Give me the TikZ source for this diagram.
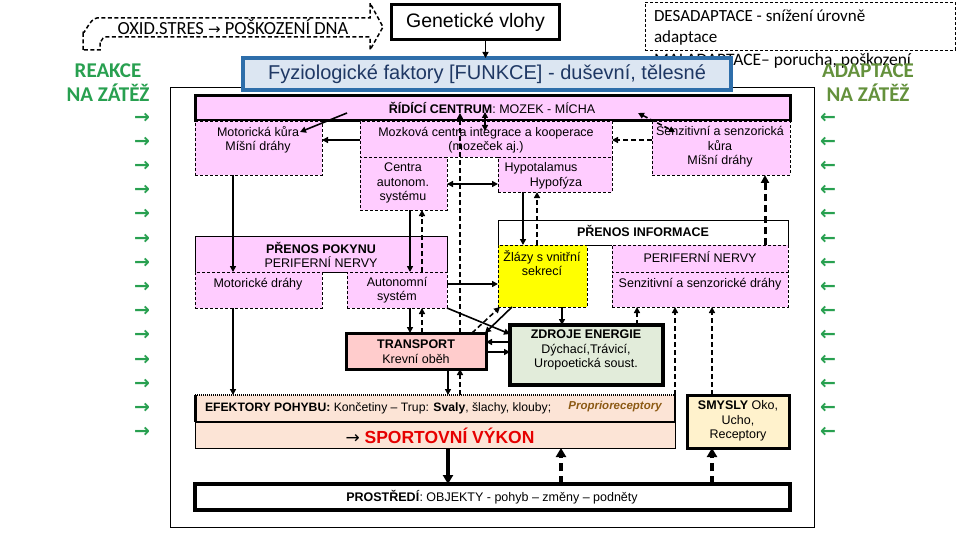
\documentclass[tikz,border=0pt]{standalone}
\usepackage{fontspec}
\setmainfont{Liberation Sans}
\newfontfamily\calf{Carlito}
\newfontfamily\djf{DejaVu Sans}
\usetikzlibrary{arrows.meta,calc}
\definecolor{pinkc}{RGB}{255,204,255}
\definecolor{fyzf}{RGB}{220,230,242}
\definecolor{fyzb}{RGB}{46,110,170}
\definecolor{fyzt}{RGB}{31,56,100}
\definecolor{grn}{RGB}{40,160,80}
\definecolor{olv}{RGB}{100,145,60}
\definecolor{trc}{RGB}{255,204,204}
\definecolor{zec}{RGB}{226,236,218}
\definecolor{efc}{RGB}{252,228,214}
\definecolor{smc}{RGB}{255,242,204}
\definecolor{ylw}{RGB}{255,255,0}
\definecolor{redt}{RGB}{230,0,0}
\definecolor{brn}{RGB}{140,90,20}
\begin{document}
\begin{tikzpicture}[x=1pt,y=-1pt,
  every node/.style={inner sep=0pt, outer sep=0pt},
  sz/.style 2 args={minimum width=#1pt, minimum height=#2pt},
  t/.style={font=\fontsize{12.5}{14.5}\selectfont, align=center},
  bx/.style={draw, line width=0.8pt},
  pk/.style={bx, fill=pinkc, dash pattern=on 3pt off 2pt},
  thk/.style={draw, line width=3pt},
  con/.style={line width=1.6pt, -{Triangle[length=6pt,width=6pt]}},
  dcon/.style={con, dash pattern=on 5pt off 3pt},
  dbl/.style={line width=1.6pt, {Triangle[length=6pt,width=6pt]}-{Triangle[length=6pt,width=6pt]}},
  bcon/.style={line width=4pt, -{Triangle[length=9pt,width=10pt]}},
  bdcon/.style={bcon, dash pattern=on 8pt off 5pt},
  gar/.style={font=\djf\bfseries\fontsize{19}{19}\selectfont, text=grn},
  big/.style={font=\calf\bfseries\fontsize{21}{21}\selectfont},
]
\useasboundingbox (0,0) rectangle (960,540);
\fill[white] (0,0) rectangle (960,540);

% columns / rows for connectors
\foreach \c in {233,410,422,448,460,485,486,523,537,561,562,637,675,712,765}
  \coordinate (c\c) at (\c,0);
\foreach \r in {140,184,284,342,352}
  \coordinate (r\r) at (0,\r);

% top left dashed bent arrow
\draw[line width=1.5pt, dash pattern=on 4pt off 2.5pt]
  (83,50) -- (83,31) to[out=-90,in=180] (97,18) -- (370,18) -- (370,3) -- (383,27)
  -- (370,50) -- (370,37) -- (105,37) to[out=180,in=-90] (100,42) -- (100,50) -- cycle;
\node[font=\calf\fontsize{18.5}{18.5}\selectfont] (oxid) at (233,27) {OXID.STRES {\djf\fontsize{15}{15}\selectfont →} POŠKOZENÍ DNA};

% left labels
\node[big, text=grn] (reak1) at (108,71) {REAKCE};
\node[big, text=grn] (reak2) at (108,93) {NA ZÁTĚŽ};
\foreach \i in {0,...,13} {
  \node[gar] (la\i) at (142,118+24.2*\i) {→};
  \node[gar] (ra\i) at (828,118+24.2*\i) {←};
}

% genetic box
\node[thk, fill=white, sz={168}{35}, font=\fontsize{19.5}{20}\selectfont] (gen) at (475.5,22.5) {Genetické vlohy};

% desadaptace
\node[draw, line width=0.8pt, dash pattern=on 3pt off 2pt, sz={310}{48}] (des) at (800,26) {};
\node[font=\calf\fontsize{17}{21}\selectfont, align=left, anchor=west] (dest) at (654,27.5) {DESADAPTACE - snížení úrovně\\adaptace};
\node[font=\calf\fontsize{17.5}{17.5}\selectfont, anchor=west] (malt) at (654,61) {MALADAPTACE– porucha, poškození};

% outer frame
\node[draw, line width=0.8pt, sz={644}{440}] (frame) at (492,307) {};

% fyziologicke
\node[draw=fyzb, line width=3.5pt, fill=fyzf, sz={488}{32}, font=\fontsize{20}{20}\selectfont, text=fyzt] (fyz) at (487,74) {Fyziologické faktory [FUNKCE] - duševní, tělesné};
\node[big, text=olv] (adap1) at (868,71) {ADAPTACE};
\node[big, text=olv] (adap2) at (868,93) {NA ZÁTĚŽ};

% ridici centrum
\node[thk, fill=pinkc, sz={595}{25}] (ridici) at (492.5,108.5) {};
\node[t] (ridt) at (492,108) {\textbf{ŘÍDÍCÍ CENTRUM}: MOZEK - MÍCHA};

\node[pk, sz={127}{54}] (mk) at (258.5,148) {};
\node[t] (mkt) at (258,140) {Motorická kůra\\Míšní dráhy};
\node[pk, sz={252}{36}] (moz) at (486,139) {};
\node[t] (mozt) at (486,140) {Mozková centra integrace a kooperace\\(mozeček aj.)};
\node[pk, sz={87}{53}] (cent) at (403.5,183.5) {};
\node[t] (centt) at (403,183) {Centra\\autonom.\\systému};
\node[pk, sz={114}{35}] (hyp) at (555,174.5) {};
\node[t] (hypt1) at (541,168) {Hypotalamus};
\node[t] (hypt2) at (556,183) {Hypofýza};
\node[pk, sz={138}{54}] (sen) at (721,148) {};
\node[t] (sent) at (720,147) {Senzitivní a senzorická\\kůra\\Míšní dráhy};

% prenos informace
\node[bx, fill=white, sz={290}{25}] (pinfo) at (643,232.5) {};
\node[t] (pinft) at (643,231) {\textbf{PŘENOS INFORMACE}};
\node[pk, fill=ylw, sz={89}{62}] (zlazy) at (542.5,276) {};
\node[t] (zlat) at (542,263) {Žlázy s vnitřní\\sekrecí};
\node[pk, sz={176}{27}] (pn) at (700,258.5) {};
\node[t] (pnt) at (700,257) {PERIFERNÍ NERVY};
\node[pk, sz={176}{35}] (sd) at (700,289.5) {};
\node[t] (sdt) at (700,284) {Senzitivní a senzorické dráhy};

% prenos pokynu
\node[bx, fill=pinkc, sz={252}{36}] (ppok) at (321,254) {};
\node[t] (ppokt) at (321,255) {\textbf{PŘENOS POKYNU}\\PERIFERNÍ NERVY};
\node[pk, sz={127}{36}] (md) at (258.5,290) {};
\node[t] (mdt) at (258,284) {Motorické dráhy};
\node[pk, sz={100}{36}] (as) at (397,290) {};
\node[t] (ast) at (397,290) {Autonomní\\systém};

% transport, zdroje
\node[thk, fill=trc, sz={140}{36}] (tr) at (416,351) {};
\node[t] (trt) at (416,351.5) {\textbf{TRANSPORT}\\Krevní oběh};
\node[draw, line width=3.5pt, fill=zec, sz={153}{60}] (ze) at (586.5,355) {};
\node[t] (zet) at (586,350) {\textbf{ZDROJE ENERGIE}\\Dýchací,Trávicí,\\Uropoetická soust.};

% efektory, sportovni vykon
\node[fill=efc, sz={480}{27}] (ef) at (435,408.5) {};
\draw[line width=1.3pt, dash pattern=on 1pt off 1pt] (ef.north west) -- (ef.north east);
\draw[line width=3pt] (ef.north west) -- (ef.south west);
\draw[line width=1.8pt] (ef.north east) -- (ef.south east) -- (ef.south west);
\node[font=\fontsize{12.2}{14}\selectfont, anchor=west] (eft) at (205,408) {\textbf{EFEKTORY POHYBU:} Končetiny – Trup: \textbf{Svaly}, šlachy, klouby;};
\node[font=\bfseries\itshape\fontsize{11.5}{14}\selectfont, text=brn] (prop) at (615,407) {Proprioreceptory};
\node[bx, fill=efc, sz={480}{26}] (sv) at (435,435) {};
\node[font=\bfseries\fontsize{17.5}{18}\selectfont] (svt) at (440,436) {{\djf\mdseries\fontsize{17}{17}\selectfont →} \textcolor{redt}{SPORTOVNÍ VÝKON}};
\node[thk, fill=smc, sz={102}{53}] (sm) at (738,421.5) {};
\node[t] (smt) at (738,421) {\textbf{SMYSLY} Oko,\\Ucho,\\Receptory};

% prostredi
\node[draw, line width=4pt, fill=white, sz={595}{26}] (pr) at (492.5,497) {};
\node[t] (prt) at (492,497) {\textbf{PROSTŘEDÍ}: OBJEKTY - pohyb – změny – podněty};

% connectors
\draw[con] ([xshift=10pt]gen.south) -- ([xshift=10pt]gen.south |- fyz.north);
\draw[con] ($(ridici.south west)+(152,-8)$) -- ($(mk.north west)+(105,11)$);
\draw[dbl] ($(ridici.south -| c485)+(0,-9)$) -- ($(moz.north -| c485)+(0,10)$);
\draw[dcon] (tr.north -| c460) -- ($(ridici.south -| c460)+(0,-8)$);
\draw[con] (moz.west |- r140) -- (mk.east |- r140);
\draw[dcon] (sen.west |- r140) -- (moz.east |- r140);
\draw[dbl, dash pattern=on 5pt off 3pt] ($(sen.north west)+(-14,-8)$) -- ($(sen.north west)+(23,11)$);
\draw[dbl] (cent.east |- r184) -- (hyp.west |- r184);
\draw[con] (mk.south -| c233) -- (md.north -| c233);
\draw[con] (md.south -| c233) -- (ef.north -| c233);
\draw[con] (cent.south -| c410) -- (as.north -| c410);
\draw[dcon] (as.north -| c422) -- (cent.south -| c422);
\draw[con] (as.south -| c410) -- (tr.north -| c410);
\draw[dcon] (tr.north -| c422) -- (as.south -| c422);
\draw[con] (as.east |- r284) -- (zlazy.west |- r284);
\draw[con] (as.south east) -- ($(ze.north west)+(0,9)$);
\draw[dcon] ($(tr.north east)+(-14,0)$) -- ($(zlazy.south west)+(2,0)$);
\draw[con] ($(zlazy.south west)+(14,0)$) -- ($(tr.north east)+(-1,0)$);
\draw[con] (ze.west |- r342) -- (tr.east |- r342);
\draw[con] (tr.east |- r352) -- (ze.west |- r352);
\draw[con] (zlazy.south -| c562) -- (ze.north -| c562);
\draw[dcon] (ze.north -| c637) -- (sd.south -| c637);
\draw[dcon] (ef.north -| c675) -- (sd.south -| c675);
\draw[dcon] (sm.north -| c712) -- (sd.south -| c712);
\draw[con] (hyp.south -| c523) -- (zlazy.north -| c523);
\draw[dcon] (zlazy.north -| c537) -- (hyp.south -| c537);
\draw[line width=3pt, dash pattern=on 7pt off 4pt, -{Triangle[length=8pt,width=8pt]}] (pn.north -| c765) -- (sen.south -| c765);
\draw[con] (tr.south -| c448) -- (ef.north -| c448);
\draw[dcon] (ef.north -| c460) -- (tr.south -| c460);
\draw[bcon] (sv.south -| c448) -- (pr.north -| c448);
\draw[bdcon] (pr.north -| c561) -- (sv.south -| c561);
\draw[bdcon] (pr.north -| c712) -- (sm.south -| c712);
\end{tikzpicture}
\end{document}
